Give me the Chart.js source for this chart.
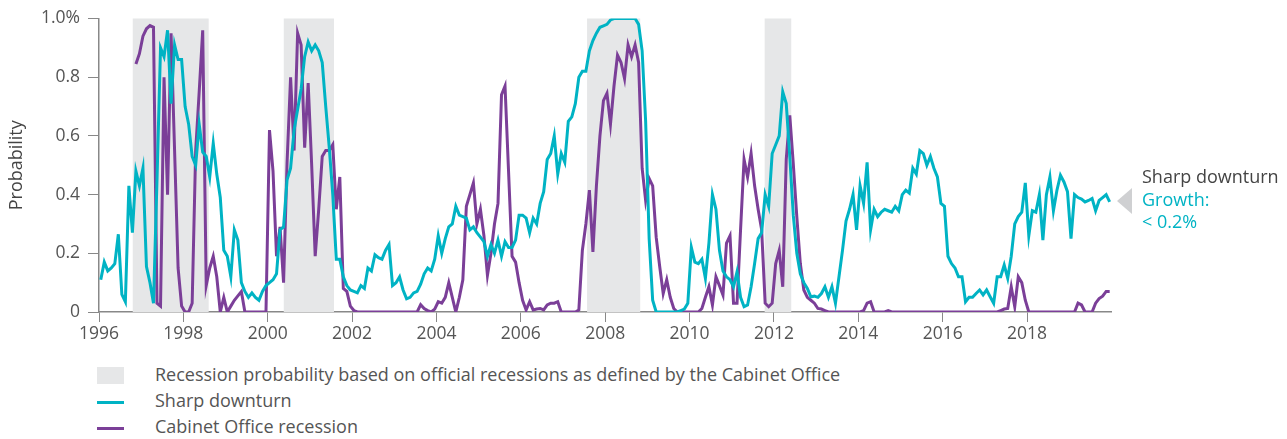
<!DOCTYPE html>
<html>
<head>
<meta charset="utf-8">
<script src="https://cdn.jsdelivr.net/npm/chart.js@4/dist/chart.umd.min.js"></script>
<style>
  body { margin: 0; background: #fff; font-family: "Open Sans", sans-serif; color: #555; }
  #wrap { position: relative; width: 1287px; height: 439px; }
  #box { position: absolute; left: 0; top: 0; width: 1287px; height: 355px; }
  .lg { position: absolute; font-size: 18px; line-height: 22px; white-space: nowrap; }
  .sw { position: absolute; left: 97px; width: 27px; }
  .note { position: absolute; left: 1142px; font-size: 18px; line-height: 22px; white-space: nowrap; }
  #tri { position: absolute; left: 1117px; top: 188px; width: 0; height: 0;
         border-top: 13px solid transparent; border-bottom: 13px solid transparent; border-right: 15px solid #cfd0d2; }
</style>
</head>
<body>
<div id="wrap">
  <div id="box"><canvas id="recChart"></canvas></div>

  <div class="sw" style="top:367px;height:17px;background:#e6e7e8"></div>
  <div class="lg" style="left:155px;top:363px">Recession probability based on official recessions as defined by the Cabinet Office</div>
  <div class="sw" style="top:401px;height:3px;background:#00b3c4"></div>
  <div class="lg" style="left:155px;top:389px">Sharp downturn</div>
  <div class="sw" style="top:427px;height:3px;background:#7b3f98"></div>
  <div class="lg" style="left:155px;top:415px">Cabinet Office recession</div>

  <div id="tri"></div>
  <div class="note" style="top:165px;color:#444">Sharp downturn</div>
  <div class="note" style="top:188px;color:#00b3c4">Growth:</div>
  <div class="note" style="top:210px;color:#00b3c4">&lt; 0.2%</div>
</div>

<script>
// monthly values, Jan 1996 onwards (one row per year)
const startYear = 1996;

const sharpDownturn = [
  0.11, 0.17, 0.14, 0.15, 0.165, 0.265, 0.06, 0.035, 0.43, 0.27, 0.48, 0.43,
  0.49, 0.155, 0.10, 0.03, 0.45, 0.90, 0.87, 0.96, 0.71, 0.91, 0.86, 0.86,
  0.70, 0.64, 0.53, 0.50, 0.64, 0.545, 0.53, 0.46, 0.575, 0.47, 0.39, 0.21,
  0.19, 0.12, 0.28, 0.245, 0.10, 0.07, 0.05, 0.065, 0.05, 0.04, 0.07, 0.09,
  0.10, 0.11, 0.13, 0.28, 0.29, 0.45, 0.49, 0.62, 0.69, 0.76, 0.87, 0.92,
  0.89, 0.91, 0.89, 0.85, 0.70, 0.56, 0.40, 0.18, 0.18, 0.12, 0.09, 0.075,
  0.07, 0.065, 0.09, 0.08, 0.15, 0.14, 0.195, 0.185, 0.18, 0.21, 0.23, 0.09,
  0.10, 0.12, 0.075, 0.045, 0.05, 0.065, 0.07, 0.095, 0.13, 0.15, 0.14, 0.18,
  0.26, 0.20, 0.25, 0.29, 0.30, 0.36, 0.33, 0.325, 0.32, 0.28, 0.29, 0.27,
  0.255, 0.24, 0.19, 0.23, 0.20, 0.245, 0.19, 0.24, 0.22, 0.22, 0.245, 0.33,
  0.33, 0.32, 0.27, 0.32, 0.30, 0.37, 0.41, 0.52, 0.54, 0.60, 0.47, 0.54,
  0.51, 0.65, 0.665, 0.71, 0.80, 0.82, 0.82, 0.89, 0.925, 0.95, 0.97, 0.975,
  0.98, 0.995, 1, 1, 1, 1, 1, 1, 1, 0.98, 0.89, 0.65,
  0.25, 0.04, 0, 0, 0, 0, 0, 0, 0, 0.005, 0.01, 0.03,
  0.22, 0.17, 0.165, 0.18, 0.115, 0.235, 0.40, 0.35, 0.21, 0.14, 0.12, 0.11,
  0.086, 0.137, 0.05, 0.018, 0.024, 0.086, 0.165, 0.25, 0.27, 0.40, 0.36, 0.54,
  0.57, 0.60, 0.75, 0.71, 0.53, 0.33, 0.20, 0.13, 0.10, 0.08, 0.052, 0.054,
  0.05, 0.063, 0.086, 0.05, 0.086, 0.03, 0.12, 0.21, 0.31, 0.35, 0.40, 0.28,
  0.43, 0.37, 0.51, 0.28, 0.35, 0.325, 0.34, 0.35, 0.345, 0.34, 0.36, 0.345,
  0.40, 0.415, 0.405, 0.49, 0.47, 0.55, 0.54, 0.50, 0.53, 0.49, 0.46, 0.37,
  0.36, 0.19, 0.165, 0.15, 0.12, 0.12, 0.035, 0.05, 0.05, 0.063, 0.075, 0.058,
  0.075, 0.052, 0.03, 0.12, 0.12, 0.16, 0.115, 0.19, 0.30, 0.325, 0.34, 0.44,
  0.26, 0.345, 0.34, 0.40, 0.245, 0.40, 0.46, 0.345, 0.415, 0.466, 0.443, 0.41,
  0.25, 0.40, 0.39, 0.385, 0.375, 0.38, 0.387, 0.345, 0.38, 0.39, 0.40, 0.375
];

const cabinetOffice = [
  null, null, null, null, null, null, null, null, null, null, 0.845, 0.88,
  0.94, 0.965, 0.976, 0.97, 0.03, 0.02, 0.80, 0.40, 0.95, 0.55, 0.15, 0.02,
  0, 0, 0.03, 0.55, 0.75, 0.96, 0.09, 0.15, 0.19, 0.12, 0, 0.05,
  0, 0.02, 0.04, 0.055, 0.07, 0, 0, 0, 0, 0, 0, 0,
  0.62, 0.48, 0.19, 0.29, 0.10, 0.51, 0.80, 0.55, 0.95, 0.91, 0.56, 0.78,
  0.50, 0.19, 0.35, 0.53, 0.55, 0.55, 0.57, 0.35, 0.46, 0.08, 0.07, 0.02,
  0.005, 0, 0, 0, 0, 0, 0, 0, 0, 0, 0, 0,
  0, 0, 0, 0, 0, 0, 0, 0.025, 0.012, 0.005, 0, 0.01,
  0.035, 0.03, 0.05, 0.10, 0.05, 0, 0.05, 0.11, 0.36, 0.40, 0.44, 0.30,
  0.35, 0.26, 0.125, 0.20, 0.30, 0.37, 0.74, 0.77, 0.48, 0.19, 0.17, 0.10,
  0.04, 0.007, 0.035, 0.007, 0.01, 0.012, 0.007, 0.024, 0.03, 0.03, 0.035, 0,
  0, 0, 0, 0, 0.007, 0.21, 0.30, 0.415, 0.205, 0.43, 0.60, 0.72,
  0.745, 0.64, 0.77, 0.875, 0.85, 0.795, 0.91, 0.87, 0.91, 0.85, 0.49, 0.38,
  0.455, 0.43, 0.255, 0.155, 0.063, 0.11, 0.05, 0.012, 0, 0, 0, 0,
  0, 0, 0, 0.012, 0.05, 0.086, 0.024, 0.12, 0.09, 0.058, 0.235, 0.26,
  0.03, 0.03, 0.28, 0.52, 0.46, 0.54, 0.43, 0.35, 0.28, 0.03, 0.018, 0.03,
  0.165, 0.21, 0.086, 0.52, 0.67, 0.505, 0.325, 0.165, 0.075, 0.05, 0.04, 0.03,
  0.012, 0.01, 0.005, 0, 0, 0, 0, 0, 0, 0, 0, 0,
  0, 0.005, 0.03, 0.035, 0, 0, 0, 0, 0.005, 0, 0, 0,
  0, 0, 0, 0, 0, 0, 0, 0, 0, 0, 0, 0,
  0, 0, 0, 0, 0, 0, 0, 0, 0, 0, 0, 0,
  0, 0, 0, 0, 0.005, 0.01, 0.012, 0.086, 0.018, 0.12, 0.10, 0.04,
  0, 0, 0, 0, 0, 0, 0, 0, 0, 0, 0, 0,
  0, 0, 0.03, 0.024, 0, 0, 0, 0.03, 0.046, 0.054, 0.07, 0.07
];

// official recessions (Cabinet Office), as fractional years
const recessionStart = [1996.8, 2000.38, 2007.57, 2011.78];
const recessionEnd = [1998.6, 2001.57, 2008.83, 2012.41];

const xTicks = [1996, 1998, 2000, 2002, 2004, 2006, 2008, 2010, 2012, 2014, 2016, 2018];
const yTicks = [0, 0.2, 0.4, 0.6, 0.8, 1.0];

const toPoints = arr => arr.map((v, i) => ({ x: startYear + (i + 0.5) / 12, y: v }));

// grey recession bands, drawn behind the lines
const bands = {
    id: "bands",
    beforeDatasetsDraw(chart) {
        const { ctx, scales: { x, y } } = chart;
        ctx.save();
        ctx.fillStyle = "#e6e7e8";
        recessionStart.forEach((s, i) => {
            const x1 = x.getPixelForValue(s);
            const x2 = x.getPixelForValue(recessionEnd[i]);
            const top = y.getPixelForValue(1);
            const bottom = y.getPixelForValue(0);
            ctx.fillRect(x1, top, x2 - x1, bottom - top);
        });
        ctx.restore();
    }
};

Chart.defaults.font.family = "'Open Sans', sans-serif";
Chart.defaults.font.size = 17.5;
Chart.defaults.color = "#555";

new Chart(document.getElementById("recChart"), {
    type: "line",
    data: {
        datasets: [
            {
                label: "Sharp downturn",
                data: toPoints(sharpDownturn),
                borderColor: "#00b3c4",
                borderWidth: 3,
                pointRadius: 0,
                tension: 0
            },
            {
                label: "Cabinet Office recession",
                data: toPoints(cabinetOffice),
                borderColor: "#7b3f98",
                borderWidth: 3,
                pointRadius: 0,
                tension: 0
            }
        ]
    },
    options: {
        responsive: true,
        maintainAspectRatio: false,
        animation: false,
        layout: { padding: { top: 18, right: 176, left: 0, bottom: 0 } },
        plugins: {
            legend: { display: false },
            tooltip: { enabled: false }
        },
        scales: {
            x: {
                type: "linear",
                min: 1996,
                max: 2019.99,
                afterFit: s => { s.height = 43; },
                afterBuildTicks: s => { s.ticks = xTicks.map(v => ({ value: v })); },
                ticks: {
                    padding: 2,
                    maxRotation: 0,
                    callback: v => String(v)
                },
                grid: { drawOnChartArea: false, drawTicks: true, tickLength: 10, color: "#888" },
                border: { color: "#888", width: 1.5 }
            },
            y: {
                min: 0,
                max: 1,
                afterFit: s => { s.width = 99; },
                afterBuildTicks: s => { s.ticks = yTicks.map(v => ({ value: v })); },
                ticks: {
                    padding: 8,
                    callback: v => v === 1 ? "1.0%" : v === 0 ? "0" : v.toFixed(1)
                },
                title: {
                    display: true,
                    text: "Probability",
                    color: "#444",
                    font: { size: 18 },
                    padding: { top: 6, bottom: 0 }
                },
                grid: { drawOnChartArea: false, drawTicks: true, tickLength: 11, color: "#888" },
                border: { color: "#888", width: 1.5 }
            }
        }
    },
    plugins: [bands]
});
</script>
</body>
</html>
